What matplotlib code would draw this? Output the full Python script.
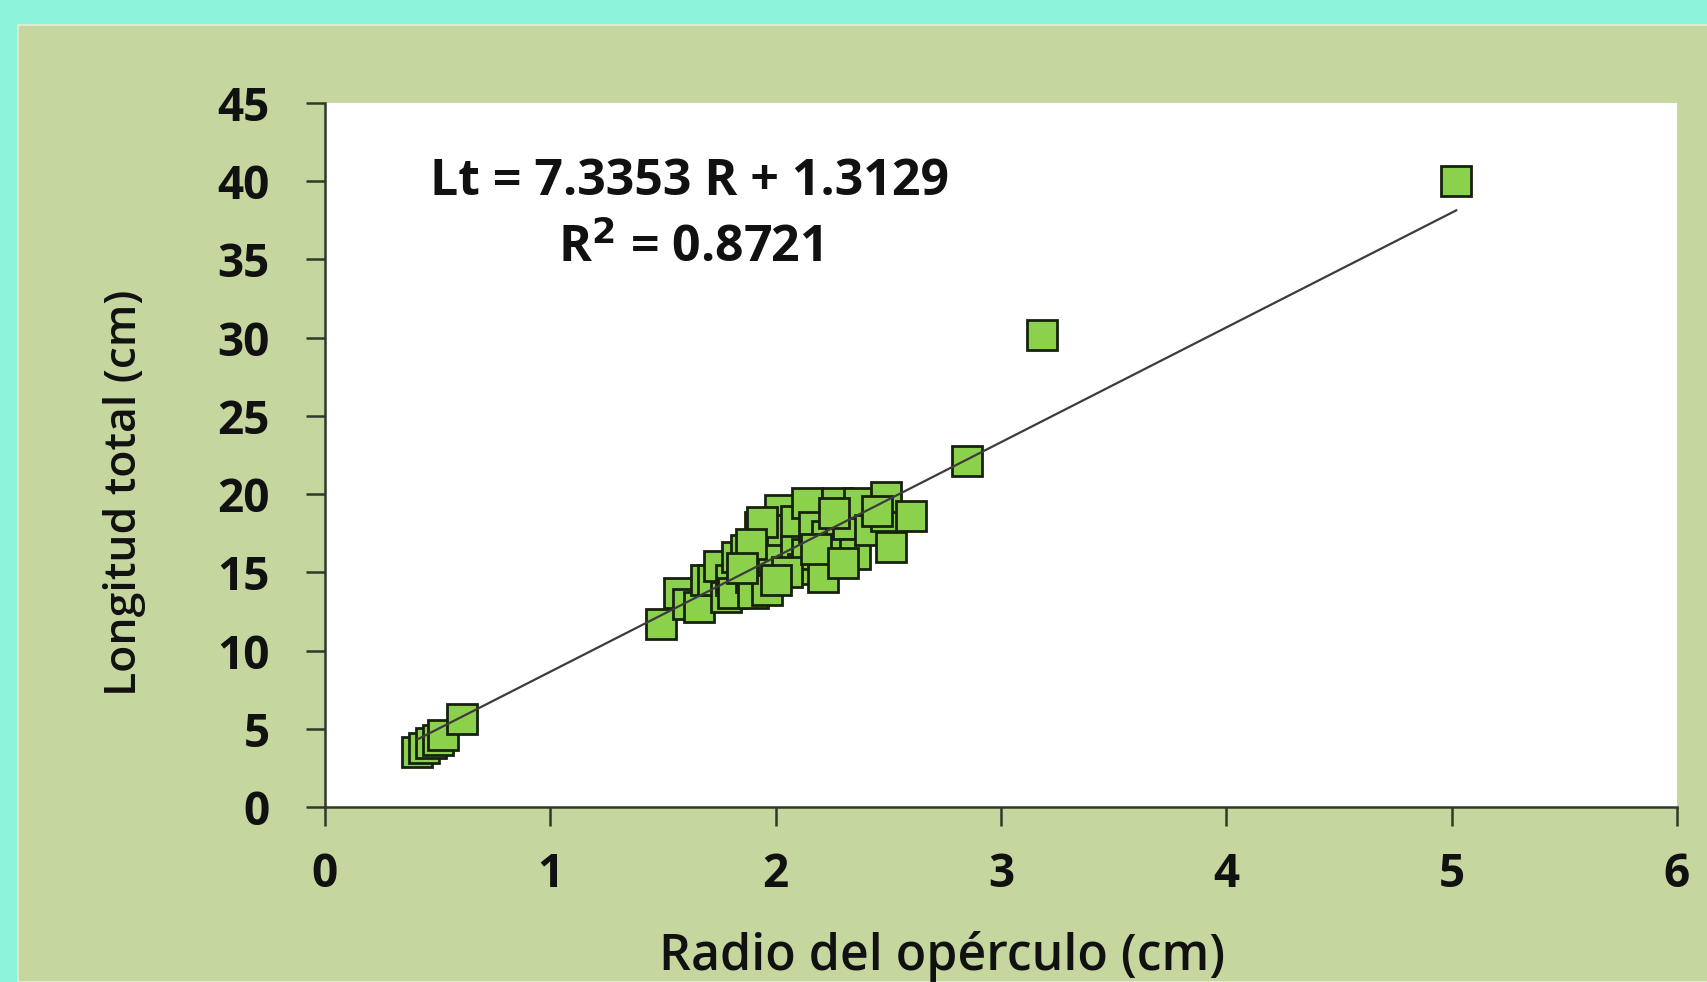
import numpy as np
import matplotlib.pyplot as plt
from matplotlib.patches import Rectangle

# radio del opérculo (cm) vs longitud total (cm)
radio = [0.41, 0.44, 0.47, 0.50, 0.525, 0.61,
         1.49, 1.57, 1.61, 1.66, 1.69, 1.72, 1.75, 1.78, 1.80, 1.81,
         1.83, 1.87, 1.89, 1.90, 1.93, 1.95, 1.96, 1.96, 1.99, 2.02,
         2.03, 2.09, 2.09, 2.12, 2.14, 2.14, 2.17, 2.21, 2.23, 2.27,
         2.29, 2.32, 2.35, 2.37, 2.42, 2.49, 2.49, 2.51, 2.60,
         1.94, 1.89, 2.05, 2.18, 2.45, 2.30, 1.85, 2.00, 2.26,
         2.85, 3.18, 5.02]
longitud = [3.5, 3.8, 4.1, 4.3, 4.6, 5.6,
            11.7, 13.7, 13.0, 12.8, 14.5, 14.5, 15.4, 13.4, 14.5, 13.7,
            16.0, 16.4, 14.7, 13.7, 17.9, 17.3, 14.9, 13.9, 16.0, 19.0,
            17.7, 16.4, 18.3, 15.2, 19.4, 16.2, 17.9, 14.7, 17.3, 19.4,
            16.9, 18.1, 16.2, 19.4, 17.7, 18.6, 19.8, 16.6, 18.6,
            18.2, 16.8, 15.0, 16.5, 18.9, 15.6, 15.3, 14.5, 18.8,
            22.1, 30.2, 40.0]

pendiente = 7.3353
intercepto = 1.3129
r2 = 0.8721

plt.rcParams['font.family'] = ['Open Sans', 'DejaVu Sans']
tinta = '#111111'

fig = plt.figure(figsize=(17.08, 9.82), dpi=100, facecolor='#8cf5d9')
fig.patches.append(Rectangle((18 / 1708, 0), 1, 1 - 25 / 982, transform=fig.transFigure,
                             facecolor='#c5d69f', edgecolor='#e6eed6', lw=1.2, zorder=-5))

ax = fig.add_axes([325 / 1708, 1 - 807 / 982, 1352 / 1708, 704 / 982])
ax.set_facecolor('white')

ax.plot(radio, longitud, 's', ms=21, mfc='#8cd14c', mec='#16220e', mew=2.0,
        linestyle='none', zorder=2, clip_on=False)

xs = np.array([min(radio), max(radio)])
ax.plot(xs, pendiente * xs + intercepto, color='#3c3c3c', lw=1.6, zorder=3)

ax.set_xlim(0, 6)
ax.set_ylim(0, 45)
ax.set_xticks(range(0, 7))
ax.set_yticks(range(0, 46, 5))
for s in ['top', 'right']:
    ax.spines[s].set_visible(False)
for s in ['left', 'bottom']:
    ax.spines[s].set_color('#2e3a28')
    ax.spines[s].set_linewidth(1.8)
ax.tick_params(axis='both', direction='out', length=14, width=1.8, color='#2e3a28',
               labelsize=33, labelcolor=tinta)
ax.tick_params(axis='y', pad=26)
ax.tick_params(axis='x', pad=18)
for lab in ax.get_xticklabels() + ax.get_yticklabels():
    lab.set_fontweight('bold')

ax.text((690 - 325) / 1352, (807 - 182) / 704, 'Lt = 7.3353 R + 1.3129',
        transform=ax.transAxes, ha='center', va='center', fontsize=36,
        fontweight='bold', color=tinta)
ax.text((690 - 325) / 1352, (807 - 249) / 704, 'R$^{\\mathbf{2}}$ = %.4f' % r2,
        transform=ax.transAxes, ha='center', va='center', fontsize=36,
        fontweight='bold', color=tinta)

fig.text(125 / 1708, 1 - 493 / 982, 'Longitud total (cm)', rotation=90,
         ha='center', va='center', fontsize=32, fontweight='semibold', color=tinta)
fig.text(942 / 1708, 1 - 956 / 982, 'Radio del opérculo (cm)',
         ha='center', va='center', fontsize=36, fontweight='semibold', color=tinta)

fig.savefig('out.png', dpi=100, facecolor=fig.get_facecolor())
